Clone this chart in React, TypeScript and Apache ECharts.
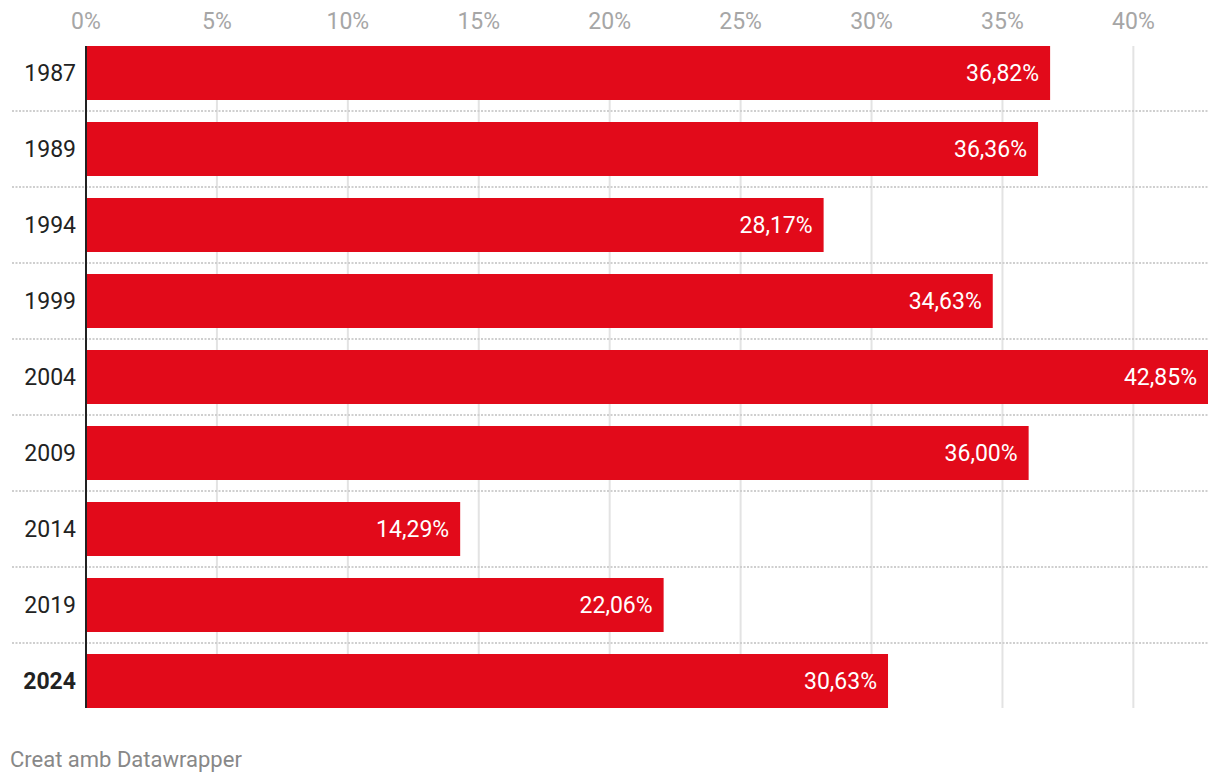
import React, { useEffect, useRef } from "react";
import * as echarts from "echarts";

const years = ["1987", "1989", "1994", "1999", "2004", "2009", "2014", "2019", "2024"];
const shares = [36.82, 36.36, 28.17, 34.63, 42.85, 36.0, 14.29, 22.06, 30.63];
const tickValues = [0, 5, 10, 15, 20, 25, 30, 35, 40];
const highlightYear = "2024";
const footerText = "Creat amb Datawrapper";

const FONT = "Roboto, 'Noto Sans', sans-serif";
const RED = "#e20a1a";
const FS = 23;

export default function App() {
  const ref = useRef<HTMLDivElement>(null);

  useEffect(() => {
    if (!ref.current) return;
    const chart = echarts.init(ref.current, null, { renderer: "svg" });
    const maxVal = Math.max(...shares);
    const BAR_W = 54;

    const option: any = {
      animation: false,
      backgroundColor: "#ffffff",
      grid: { left: 86, right: 12, top: 35, bottom: 65, containLabel: false },
      xAxis: {
        type: "value",
        position: "top",
        min: 0,
        max: maxVal,
        interval: 5,
        axisLine: { show: false },
        axisTick: { show: false },
        splitLine: { show: false },
        axisLabel: {
          color: "#a6a6a6",
          fontFamily: FONT,
          fontSize: FS,
          margin: 2,
          showMaxLabel: false,
          formatter: (v: number) => (tickValues.includes(Math.round(v * 100) / 100) ? `${v}%` : ""),
        },
      },
      yAxis: {
        type: "category",
        inverse: true,
        data: years,
        axisLine: { show: false },
        axisTick: { show: false },
        splitLine: { show: false },
        axisLabel: {
          margin: 10,
          color: "#222222",
          fontFamily: FONT,
          fontSize: FS,
          formatter: (v: string) => (v === highlightYear ? `{b|${v}}` : `{n|${v}}`),
          rich: {
            n: { color: "#222222", fontFamily: FONT, fontSize: FS },
            b: { color: "#222222", fontFamily: FONT, fontSize: FS, fontWeight: "bold" },
          },
        },
      },
      series: [
        {
          type: "bar",
          data: shares,
          barWidth: BAR_W,
          z: 5,
          itemStyle: { color: RED },
          label: {
            show: true,
            position: "insideRight",
            distance: 11,
            color: "#ffffff",
            fontFamily: FONT,
            fontSize: FS,
            formatter: (p: any) => `${Number(p.value).toFixed(2).replace(".", ",")}%`,
          },
        },
      ],
    };
    chart.setOption(option);

    const centers = years.map((y) => chart.convertToPixel({ yAxisIndex: 0 }, y) as number);
    const topY = centers[0] - BAR_W / 2;
    const botY = centers[centers.length - 1] + BAR_W / 2;
    const x0 = chart.convertToPixel({ xAxisIndex: 0 }, 0) as number;
    const xEnd = chart.convertToPixel({ xAxisIndex: 0 }, maxVal) as number;

    const elements: any[] = [];
    tickValues.forEach((t) => {
      if (t === 0) return;
      const x = chart.convertToPixel({ xAxisIndex: 0 }, t) as number;
      elements.push({
        type: "line",
        z: 1,
        shape: { x1: x, y1: topY, x2: x, y2: botY },
        style: { stroke: "#e3e3e3", lineWidth: 2 },
      });
    });
    for (let i = 0; i < centers.length - 1; i++) {
      const y = Math.round((centers[i] + centers[i + 1]) / 2);
      elements.push({
        type: "line",
        z: 2,
        shape: { x1: 12, y1: y, x2: xEnd, y2: y },
        style: { stroke: "#cfcfcf", lineWidth: 2, lineDash: [2, 1.5] },
      });
    }
    elements.push({
      type: "line",
      z: 20,
      shape: { x1: x0, y1: topY, x2: x0, y2: botY },
      style: { stroke: "#222222", lineWidth: 2 },
    });
    elements.push({
      type: "text",
      left: 10,
      top: 748,
      style: { text: footerText, fill: "#888888", font: `22px ${FONT}` },
    });

    chart.setOption({ graphic: { elements } });

    return () => chart.dispose();
  }, []);

  return (
    <div
      ref={ref}
      style={{ position: "absolute", left: 0, top: 0, width: 1220, height: 784 }}
    />
  );
}
